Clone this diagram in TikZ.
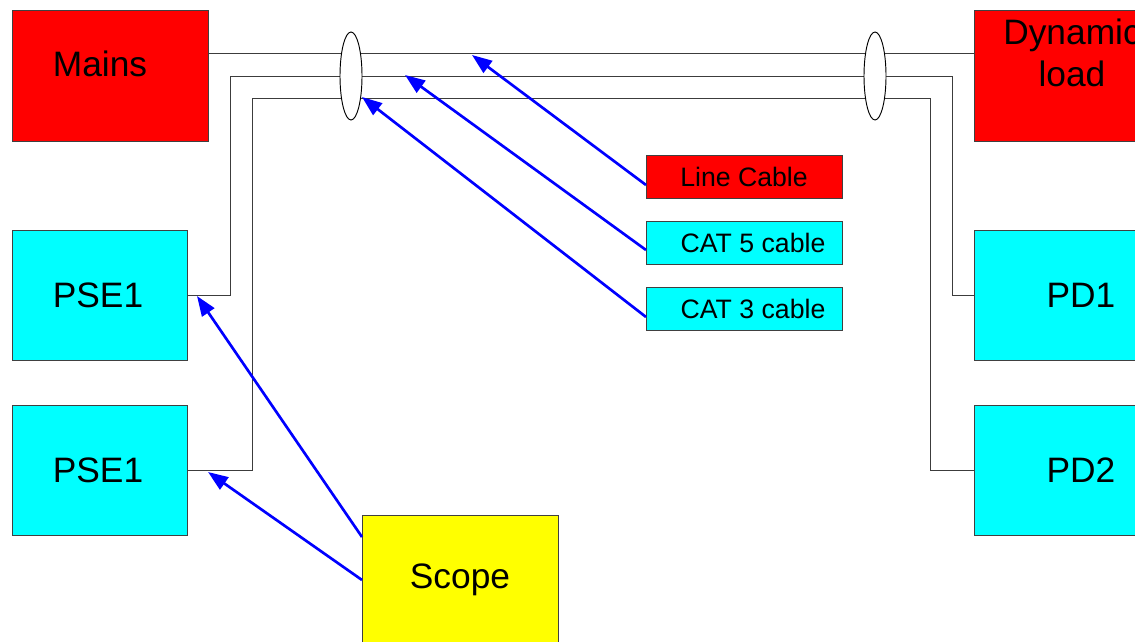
\documentclass[tikz,border=0pt]{standalone}
\usepackage{fontspec}
\setmainfont{Liberation Sans}
\usetikzlibrary{arrows.meta,calc}
\definecolor{redbox}{RGB}{255,0,0}
\definecolor{cyanbox}{RGB}{0,255,255}
\definecolor{yelbox}{RGB}{255,255,0}
\definecolor{wire}{RGB}{60,60,60}
\definecolor{arrblue}{RGB}{0,0,255}
\tikzset{
  box/.style={draw=black!75, line width=0.6pt, inner sep=0pt, anchor=north west},
  bigtxt/.style={font=\fontsize{26.5}{30}\selectfont},
  smalltxt/.style={font=\fontsize{20}{23}\selectfont},
  wireline/.style={draw=wire, line width=0.7pt},
  cablering/.style={draw=black, fill=white, line width=0.7pt},
  pointer/.style={draw=arrblue, line width=2pt, -{Triangle[length=15pt,width=11pt]}},
}
\begin{document}
\begin{tikzpicture}[x=0.75pt,y=-0.75pt]
\useasboundingbox (0,0) rectangle (1135,642);
\clip (0,0) rectangle (1135,642);
% boxes
\node[box, fill=redbox, minimum width=196*0.75pt, minimum height=131*0.75pt] (mains) at (12,10) {};
\node[bigtxt] (mainst) at (100,64) {Mains};
\node[box, fill=redbox, minimum width=196*0.75pt, minimum height=131*0.75pt] (dyn) at (974,10) {};
\node[bigtxt, align=center] (dynt) at (1072,53) {Dynamic\\[1pt]load};
\node[box, fill=cyanbox, minimum width=175*0.75pt, minimum height=130*0.75pt] (pse1) at (12,230) {};
\node[bigtxt] (pse1t) at (98,295) {PSE1};
\node[box, fill=cyanbox, minimum width=175*0.75pt, minimum height=130*0.75pt] (pse2) at (12,405) {};
\node[bigtxt] (pse2t) at (98,470) {PSE1};
\node[box, fill=cyanbox, minimum width=196*0.75pt, minimum height=130*0.75pt] (pd1) at (974,230) {};
\node[bigtxt] (pd1t) at (1081,295) {PD1};
\node[box, fill=cyanbox, minimum width=196*0.75pt, minimum height=130*0.75pt] (pd2) at (974,405) {};
\node[bigtxt] (pd2t) at (1081,470) {PD2};
\node[box, fill=yelbox, minimum width=196*0.75pt, minimum height=131*0.75pt] (scope) at (362,515) {};
\node[bigtxt] (scopet) at (460,580) {Scope};
\node[box, fill=redbox, minimum width=196*0.75pt, minimum height=43*0.75pt] (lc) at (646,155) {};
\node[smalltxt] (lct) at (744,177) {Line Cable};
\node[box, fill=cyanbox, minimum width=196*0.75pt, minimum height=43*0.75pt] (c5) at (646,221) {};
\node[smalltxt] (c5t) at (753,243) {CAT 5 cable};
\node[box, fill=cyanbox, minimum width=196*0.75pt, minimum height=43*0.75pt] (c3) at (646,287) {};
\node[smalltxt] (c3t) at (753,309) {CAT 3 cable};
% wires
\draw[wireline] (mains.east |- 0,53) -- (dyn.west |- 0,53);
\draw[wireline] (pse1.east |- 0,295) -- (230,295) -- (230,76) -- (952,76) -- (952,295) -- (pd1.west |- 0,295);
\draw[wireline] (pse2.east |- 0,470) -- (252,470) -- (252,98) -- (930,98) -- (930,470) -- (pd2.west |- 0,470);
% cable rings
\draw[cablering] (351,76) ellipse [x radius=11, y radius=44];
\draw[cablering] (875,76) ellipse [x radius=11, y radius=44];
% pointer targets
\coordinate (tlc) at (472,55);
\coordinate (tc5) at (405,75);
\coordinate (tc3) at (362,97);
\coordinate (tp1) at (197,296);
\coordinate (tp2) at (208,472);
\draw[pointer] (lc.west |- 0,185) -- (tlc);
\draw[pointer] (c5.west |- 0,250) -- (tc5);
\draw[pointer] (c3.west |- 0,317) -- (tc3);
\draw[pointer] (scope.west |- 0,537) -- (tp1);
\draw[pointer] (scope.west |- 0,580) -- (tp2);
\end{tikzpicture}
\end{document}
